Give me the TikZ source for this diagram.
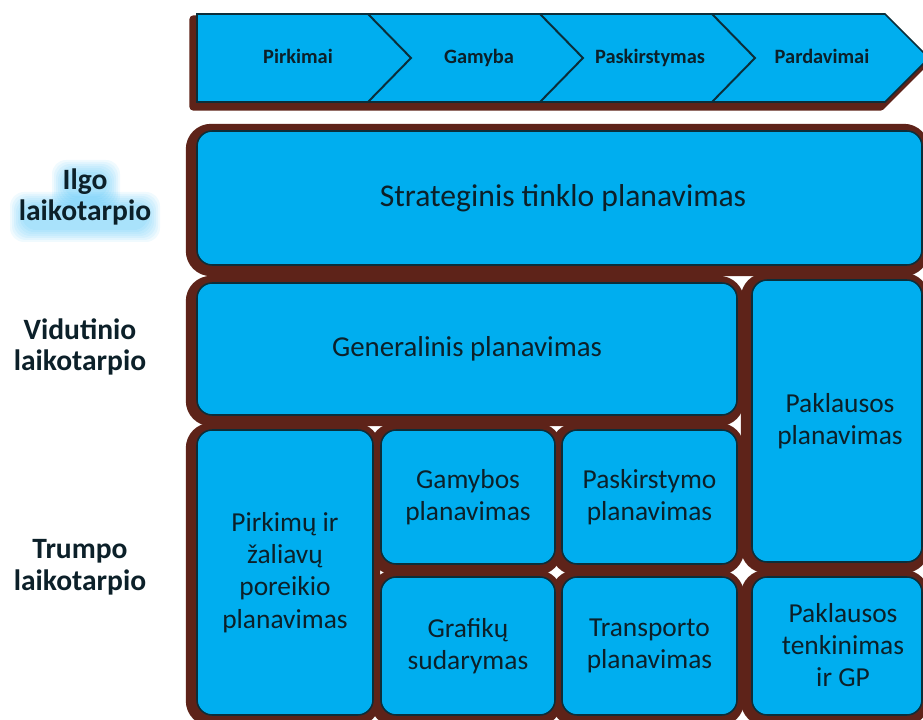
\documentclass[tikz,border=0pt]{standalone}
\usepackage{fontspec}
\setmainfont{Carlito}
\usetikzlibrary{fit}

\definecolor{boxcyan}{HTML}{00AEEF}
\definecolor{shadowbrown}{HTML}{5E2319}
\definecolor{edgedark}{HTML}{0B2E3A}
\definecolor{inkdark}{HTML}{0C2029}
\definecolor{glowcyan}{HTML}{29B6F6}

\tikzset{
  boxshadow/.style={draw=shadowbrown, fill=shadowbrown, line width=13pt, rounded corners=0.4cm},
  planbox/.style={draw=edgedark, line width=1.1pt, fill=boxcyan, rounded corners=0.38cm, inner sep=0pt},
  boxtext/.style={text=inkdark, align=center, font=\fontsize{19.5}{23}\selectfont},
  barshadow/.style={draw=shadowbrown, fill=shadowbrown, line width=5pt, line join=round},
  barbox/.style={draw=edgedark, line width=1.1pt, fill=boxcyan},
  steptext/.style={text=inkdark, anchor=base, font=\bfseries\fontsize{14.5}{17}\selectfont},
  termtext/.style={text=inkdark, align=center, font=\bfseries\fontsize{21}{22.5}\selectfont},
  glowblob/.style={fill=glowcyan, opacity=0.07, rounded corners=0.35cm}
}

\begin{document}
\begin{tikzpicture}[x=0.025cm, y=-0.025cm]
\useasboundingbox (0,0) rectangle (923,720);
\clip (0,0) rectangle (923,720);

% process chain on top
\draw[barshadow, shift={(-4,5)}] (197,14) -- (885,14) -- (929,58) -- (885,102) -- (197,102) -- cycle;
\draw[barbox] (197,14) -- (885,14) -- (929,58) -- (885,102) -- (197,102) -- cycle;
\foreach \x in {368,540,712}
  \draw[edgedark, line width=1.4pt] (\x,14) -- (\x+43,58) -- (\x,102);
\foreach \x/\lbl/\nm in {298/Pirkimai/pirkimai, 479/Gamyba/gamyba,
    650/Paskirstymas/paskirstymas, 822/Pardavimai/pardavimai}
  \node[steptext] (\nm) at (\x,64) {\lbl};

% planning boxes: shadows first, then boxes
\foreach \xa/\ya/\xb/\yb in {197/131/922/265, 197/283/737/415, 752/280/922/562,
    197/430/373/715, 381/430/555/564, 562/430/737/564,
    381/577/555/715, 562/577/737/715, 752/577/922/715}
  \draw[boxshadow, shift={(-2,2)}] (\xa,\ya) rectangle (\xb,\yb);

\node[planbox, fit={(197,131) (922,265)}] (strateginis) {};
\node[planbox, fit={(197,283) (737,415)}] (generalinis) {};
\node[planbox, fit={(752,280) (922,562)}] (paklausos) {};
\node[planbox, fit={(197,430) (373,715)}] (pirkimu) {};
\node[planbox, fit={(381,430) (555,564)}] (gamybos) {};
\node[planbox, fit={(562,430) (737,564)}] (paskirstymo) {};
\node[planbox, fit={(381,577) (555,715)}] (grafiku) {};
\node[planbox, fit={(562,577) (737,715)}] (transporto) {};
\node[planbox, fit={(752,577) (922,715)}] (tenkinimas) {};

\node[boxtext, font=\fontsize{22.5}{26}\selectfont] (strateginis-t) at (563,198) {Strateginis tinklo planavimas};
\node[boxtext, font=\fontsize{20.5}{24}\selectfont] (generalinis-t) at (generalinis.center) {Generalinis planavimas};
\node[boxtext] (paklausos-t) at (840,421) {Paklausos\\planavimas};
\node[boxtext] (pirkimu-t) at (pirkimu.center) {Pirkimų ir\\žaliavų\\poreikio\\planavimas};
\node[boxtext] (gamybos-t) at (gamybos.center) {Gamybos\\planavimas};
\node[boxtext] (paskirstymo-t) at (paskirstymo.center) {Paskirstymo\\planavimas};
\node[boxtext] (grafiku-t) at (grafiku.center) {Grafikų\\sudarymas};
\node[boxtext] (transporto-t) at (transporto.center) {Transporto\\planavimas};
\node[boxtext] (tenkinimas-t) at (843,645) {Paklausos\\tenkinimas\\ir GP};

% time horizons
\foreach \d in {0,2,...,12} {
  \fill[glowblob] (64-\d,172-\d) rectangle (108+\d,198+\d);
  \fill[glowblob] (22-\d,204-\d) rectangle (148+\d,230+\d);
}
\node[termtext] (ilgo) at (85,197) {Ilgo\\laikotarpio};
\node[termtext] (vidutinio) at (80,347) {Vidutinio\\laikotarpio};
\node[termtext] (trumpo) at (80,567) {Trumpo\\laikotarpio};
\end{tikzpicture}
\end{document}
